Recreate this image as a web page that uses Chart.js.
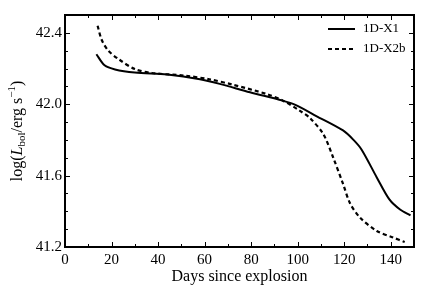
<!DOCTYPE html>
<html>
<head>
<meta charset="utf-8">
<script src="https://cdn.jsdelivr.net/npm/chart.js@4"></script>
<style>
  html, body { margin: 0; padding: 0; background: #fff; }
  #wrap { width: 436px; height: 291px; }
</style>
</head>
<body>
<div id="wrap"><canvas id="lcChart" width="436" height="291"></canvas></div>
<script>
// light curve values
const daysX1 = [13.5, 17, 21.5, 30, 44, 58, 66.5, 79.5, 93.5, 99, 108, 119.5, 124, 127.5, 134, 139.5, 144, 148.5];
const lumX1 = [42.28, 42.218, 42.195, 42.178, 42.166, 42.14, 42.114, 42.067, 42.02, 41.996, 41.934, 41.853, 41.8, 41.745, 41.59, 41.465, 41.41, 41.377];

const daysX2 = [14, 15.8, 18.6, 23, 30, 37.3, 51.6, 62, 72, 86.7, 93.7, 101, 105.3, 111, 115.3, 119.6, 122.5, 126.8, 134, 141, 146];
const lumX2 = [42.44, 42.36, 42.30, 42.253, 42.197, 42.175, 42.16, 42.14, 42.11, 42.057, 42.02, 41.963, 41.922, 41.833, 41.70, 41.55, 41.445, 41.365, 41.29, 41.253, 41.228];

const seriesNames = ['1D-X1', '1D-X2b'];
const xTickLabels = [0, 20, 40, 60, 80, 100, 120, 140];
const yTickLabels = [41.2, 41.6, 42.0, 42.4];

const SERIF = '"Liberation Serif", "DejaVu Serif", serif';

function toPoints(xs, ys) {
    return xs.map((x, i) => ({ x: x, y: ys[i] }));
}

// frame, inward ticks, legend and axis titles
const decorPlugin = {
    id: 'decor',
    afterDraw(chart) {
        const ctx = chart.ctx;
        const ca = chart.chartArea;
        const xs = chart.scales.x;
        const ys = chart.scales.y;
        ctx.save();
        ctx.strokeStyle = '#000';

        ctx.lineWidth = 1;
        for (let d = 0; d <= 150; d += 10) {
            const px = Math.round(xs.getPixelForValue(d)) + 0.5;
            const len = d % 20 === 0 ? 5 : 3;
            ctx.beginPath();
            ctx.moveTo(px, ca.bottom); ctx.lineTo(px, ca.bottom - len);
            ctx.moveTo(px, ca.top); ctx.lineTo(px, ca.top + len);
            ctx.stroke();
        }
        for (let i = 0; i <= 13; i++) {
            const v = 41.2 + i * 0.1;
            const py = Math.round(ys.getPixelForValue(v)) + 0.5;
            const len = i % 4 === 0 ? 5 : 3;
            ctx.beginPath();
            ctx.moveTo(ca.left, py); ctx.lineTo(ca.left + len, py);
            ctx.moveTo(ca.right, py); ctx.lineTo(ca.right - len, py);
            ctx.stroke();
        }

        ctx.lineWidth = 2;
        ctx.strokeRect(ca.left, ca.top, ca.right - ca.left, ca.bottom - ca.top);

        // legend
        chart.data.datasets.forEach((ds, i) => {
            const y = 29 + i * 20;
            ctx.beginPath();
            ctx.lineWidth = ds.borderWidth;
            ctx.setLineDash(ds.borderDash || []);
            ctx.moveTo(328, y); ctx.lineTo(355, y);
            ctx.stroke();
            ctx.setLineDash([]);
            ctx.fillStyle = '#000';
            ctx.font = '13px ' + SERIF;
            ctx.textBaseline = 'middle';
            ctx.textAlign = 'left';
            ctx.fillText(ds.label, 363, y);
        });

        // x title
        ctx.fillStyle = '#000';
        ctx.font = '16px ' + SERIF;
        ctx.textAlign = 'center';
        ctx.textBaseline = 'middle';
        ctx.fillText('Days since explosion', (ca.left + ca.right) / 2, 277);

        // y title with sub/superscripts
        ctx.translate(18, (ca.top + ca.bottom) / 2);
        ctx.rotate(-Math.PI / 2);
        const parts = [
            { t: 'log(', f: '16px ' + SERIF, dy: 0 },
            { t: 'L', f: 'italic 16px ' + SERIF, dy: 0 },
            { t: 'bol', f: '11px ' + SERIF, dy: 4 },
            { t: '/erg s', f: '16px ' + SERIF, dy: 0 },
            { t: '\u22121', f: '11px ' + SERIF, dy: -6 },
            { t: ')', f: '16px ' + SERIF, dy: 0 }
        ];
        let total = 0;
        parts.forEach(p => { ctx.font = p.f; total += ctx.measureText(p.t).width; });
        let x = -total / 2;
        ctx.textAlign = 'left';
        parts.forEach(p => {
            ctx.font = p.f;
            ctx.fillText(p.t, x, p.dy);
            x += ctx.measureText(p.t).width;
        });
        ctx.restore();
    }
};

new Chart(document.getElementById('lcChart').getContext('2d'), {
    type: 'line',
    data: {
        datasets: [
            {
                label: seriesNames[0],
                data: toPoints(daysX1, lumX1),
                borderColor: '#000',
                borderWidth: 2,
                pointRadius: 0,
                tension: 0.3,
                fill: false
            },
            {
                label: seriesNames[1],
                data: toPoints(daysX2, lumX2),
                borderColor: '#000',
                borderWidth: 2.2,
                borderDash: [4, 3],
                pointRadius: 0,
                tension: 0.3,
                fill: false
            }
        ]
    },
    options: {
        responsive: false,
        animation: false,
        layout: { padding: { left: 0, top: 15, right: 22, bottom: 0 } },
        plugins: { legend: { display: false }, tooltip: { enabled: false } },
        scales: {
            x: {
                type: 'linear',
                min: 0,
                max: 150,
                afterBuildTicks: s => { s.ticks = xTickLabels.map(v => ({ value: v })); },
                afterFit: s => { s.height = 44; },
                grid: { drawOnChartArea: false, drawTicks: false },
                border: { display: false },
                ticks: { color: '#000', padding: 4, maxRotation: 0, font: { family: SERIF, size: 15 } }
            },
            y: {
                type: 'linear',
                min: 41.2,
                max: 42.5,
                afterBuildTicks: s => { s.ticks = yTickLabels.map(v => ({ value: v })); },
                afterFit: s => { s.width = 65; },
                grid: { drawOnChartArea: false, drawTicks: false },
                border: { display: false },
                ticks: {
                    color: '#000',
                    padding: 3,
                    font: { family: SERIF, size: 15 },
                    callback: v => v.toFixed(1)
                }
            }
        }
    },
    plugins: [decorPlugin]
});
</script>
</body>
</html>
